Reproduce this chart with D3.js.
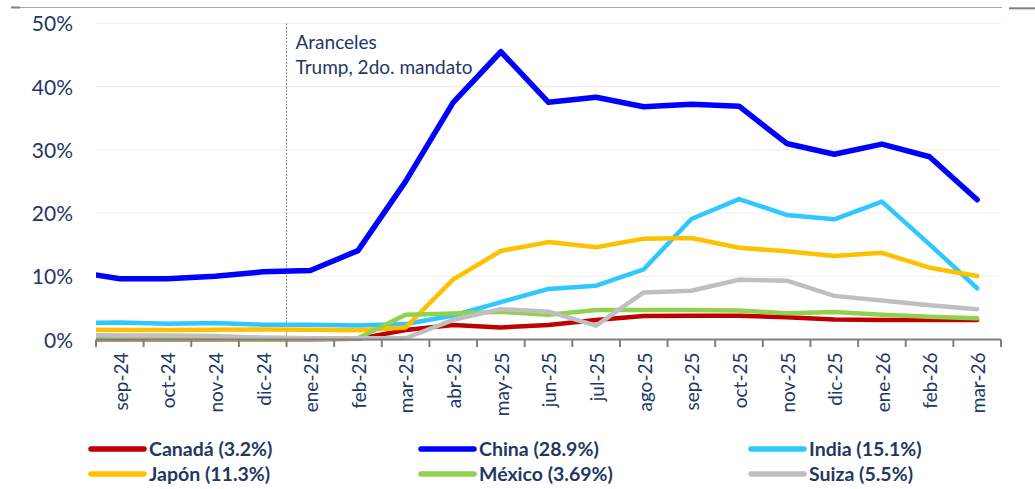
<!DOCTYPE html>
<html>
<head>
<meta charset="utf-8">
<script src="https://cdn.jsdelivr.net/npm/d3@7"></script>
<style>
  html, body { margin: 0; padding: 0; background: #ffffff; }
  svg { display: block; }
</style>
</head>
<body>
<svg id="chart" width="1035" height="489"></svg>
<script>
// ---- data ----
// "ago-24" is only partly visible at the left edge of the plot (clipped), no label shown
const allMonths = ["ago-24","sep-24","oct-24","nov-24","dic-24","ene-25","feb-25","mar-25","abr-25","may-25","jun-25","jul-25","ago-25","sep-25","oct-25","nov-25","dic-25","ene-26","feb-26","mar-26"];
const shownMonths = allMonths.slice(1);
const yTicks = [0, 10, 20, 30, 40, 50];

const canada = [0.05, 0.05, 0.05, 0.05, 0.05, 0.05, 0.1, 1.5, 2.3, 1.9, 2.3, 3.1, 3.7, 3.75, 3.75, 3.5, 3.15, 3.1, 3.1, 3.1];
const china  = [10.8, 9.6, 9.6, 10.0, 10.7, 10.9, 14.05, 25.0, 37.5, 45.5, 37.5, 38.3, 36.8, 37.2, 36.9, 31.0, 29.3, 30.9, 28.9, 22.1];
const india  = [2.6, 2.7, 2.5, 2.6, 2.35, 2.35, 2.2, 2.45, 3.8, 5.9, 8.0, 8.5, 11.1, 19.05, 22.2, 19.7, 19.0, 21.8, 15.05, 8.1];
const japon  = [1.6, 1.5, 1.5, 1.55, 1.6, 1.55, 1.45, 1.9, 9.5, 14.0, 15.4, 14.6, 15.95, 16.05, 14.5, 13.95, 13.2, 13.7, 11.35, 10.05];
const mexico = [0.2, 0.15, 0.1, 0.1, 0.05, 0.1, 0.2, 3.9, 4.1, 4.4, 3.9, 4.65, 4.65, 4.65, 4.6, 4.15, 4.35, 3.9, 3.6, 3.35];
const suiza  = [0.75, 0.65, 0.65, 0.55, 0.3, 0.2, 0.2, 0.2, 3.1, 4.8, 4.4, 2.2, 7.45, 7.7, 9.45, 9.3, 6.9, 6.15, 5.4, 4.8];

const seriesNames  = ["Canadá (3.2%)", "China (28.9%)", "India (15.1%)", "Japón (11.3%)", "México (3.69%)", "Suiza (5.5%)"];
const seriesValues = [canada, china, india, japon, mexico, suiza];
const seriesColors = ["#c00000", "#0000ff", "#2ec8ff", "#ffc000", "#92d050", "#bfbfbf"];
const seriesWidths = [4.5, 5.5, 4.5, 4.5, 4.5, 4.5];

const annotationLines = ["Aranceles", "Trump, 2do. mandato"];
const annotationAt = "ene-25";

// ---- layout ----
const svg = d3.select("#chart");
const plotL = 96, plotR = 1001, plotT = 23.3, plotB = 339.5;
const step = (plotR - plotL) / shownMonths.length;
const navy = "#1f3864";
const font = "Lato, 'Open Sans', sans-serif";

const x = d3.scaleBand().domain(allMonths).range([plotL - step, plotR]).padding(0);
const xc = m => x(m) + x.bandwidth() / 2;
const y = d3.scaleLinear().domain([0, 50]).range([plotB, plotT]);

// top border line
svg.append("line").attr("x1", 11).attr("x2", 1002).attr("y1", 7.5).attr("y2", 7.5)
  .attr("stroke", "#a6a6a6").attr("stroke-width", 1);
svg.append("line").attr("x1", 11).attr("x2", 20).attr("y1", 7.5).attr("y2", 7.5)
  .attr("stroke", "#808080").attr("stroke-width", 2);
svg.append("line").attr("x1", 1009).attr("x2", 1035).attr("y1", 8.3).attr("y2", 8.3)
  .attr("stroke", "#808080").attr("stroke-width", 2);

// gridlines
svg.append("g").selectAll("line").data(yTicks.filter(d => d > 0)).join("line")
  .attr("x1", plotL).attr("x2", plotR)
  .attr("y1", d => y(d)).attr("y2", d => y(d))
  .attr("stroke", "#ededed").attr("stroke-width", 1);

// y axis labels
const yAxis = d3.axisLeft(y).tickValues(yTicks).tickFormat(d => d + "%").tickSize(0).tickPadding(0);
const yg = svg.append("g").attr("transform", `translate(73,0)`).call(yAxis);
yg.select(".domain").remove();
yg.selectAll("text").attr("font-family", font).attr("font-size", 21).attr("fill", navy).attr("dy", "0.36em");

// vertical dotted line
svg.append("line").attr("x1", x(annotationAt)).attr("x2", x(annotationAt))
  .attr("y1", plotT).attr("y2", plotB)
  .attr("stroke", "#7f7f7f").attr("stroke-width", 1).attr("stroke-dasharray", "2,1.5");

// annotation
const ann = svg.append("text").attr("font-family", font).attr("font-size", 19).attr("fill", navy);
ann.selectAll("tspan").data(annotationLines).join("tspan")
  .attr("x", x(annotationAt) + 9).attr("y", (d, i) => 48.5 + i * 25).text(d => d);

// clip
svg.append("clipPath").attr("id", "plotclip").append("rect")
  .attr("x", plotL).attr("y", 0).attr("width", 1035 - plotL).attr("height", 400);

// lines
const line = d3.line().x((d, i) => xc(allMonths[i])).y(d => y(d));
svg.append("g").attr("clip-path", "url(#plotclip)")
  .selectAll("path").data(seriesValues).join("path")
  .attr("d", d => line(d))
  .attr("fill", "none")
  .attr("stroke", (d, i) => seriesColors[i])
  .attr("stroke-width", (d, i) => seriesWidths[i])
  .attr("stroke-linejoin", "round")
  .attr("stroke-linecap", "round");

// x axis
const xAxis = d3.axisBottom(x).tickValues(shownMonths).tickSize(0).tickPadding(0);
const xg = svg.append("g").attr("transform", `translate(0,${plotB})`).call(xAxis);
xg.select(".domain").remove();
xg.selectAll("text")
  .attr("font-family", font).attr("font-size", 19).attr("fill", navy)
  .attr("text-anchor", "end")
  .attr("transform", "translate(1,13) rotate(-90)")
  .attr("x", 0).attr("y", 0).attr("dy", "0.36em");
// axis line and ticks between categories
svg.append("line").attr("x1", plotL).attr("x2", plotR).attr("y1", plotB).attr("y2", plotB)
  .attr("stroke", "#7f7f7f").attr("stroke-width", 2);
const tickPos = shownMonths.map(m => x(m)).concat([plotR]);
svg.append("g").selectAll("line").data(tickPos).join("line")
  .attr("x1", d => d).attr("x2", d => d).attr("y1", plotB).attr("y2", plotB + 7.5)
  .attr("stroke", "#7f7f7f").attr("stroke-width", 2);

// legend
const legCols = [90, 420, 750];
const legRows = [449, 474];
const leg = svg.append("g").selectAll("g").data(seriesNames).join("g")
  .attr("transform", (d, i) => `translate(${legCols[i % 3]},${legRows[Math.floor(i / 3)]})`);
leg.append("line").attr("x1", 1).attr("x2", 54).attr("y1", 0).attr("y2", 0)
  .attr("stroke", (d, i) => seriesColors[i]).attr("stroke-width", 5.5).attr("stroke-linecap", "round");
leg.append("text").attr("x", 59).attr("y", 0).attr("dy", "0.36em")
  .attr("font-family", font).attr("font-weight", "bold").attr("font-size", 19.5).attr("fill", navy)
  .text(d => d);
</script>
</body>
</html>
